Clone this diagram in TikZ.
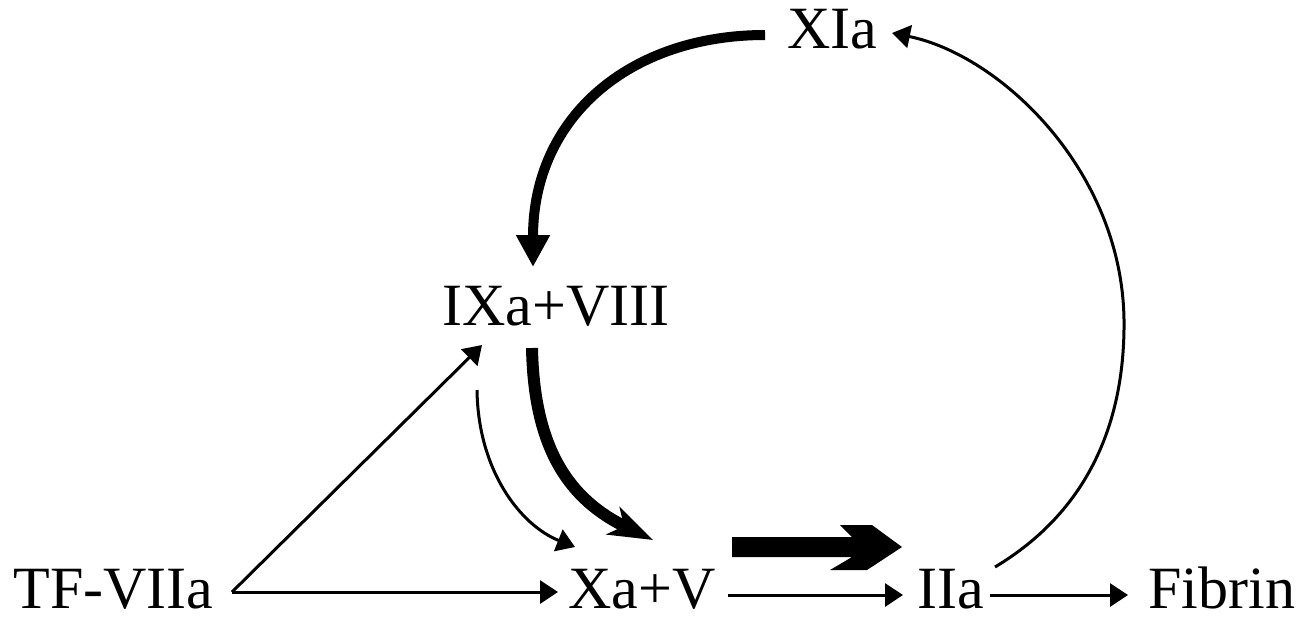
\documentclass[tikz,border=0pt]{standalone}
\usepackage{fontspec}
\setmainfont{Liberation Serif}
\usetikzlibrary{arrows.meta,calc}
\begin{document}
\begin{tikzpicture}[x=0.5pt,y=-0.5pt,
  lbl/.style={inner sep=0pt, anchor=base west, font=\fontsize{30}{36}\selectfont},
  thinarrow/.style={line width=1.5pt, -{Triangle[length=9pt,width=11.5pt]}},
  boldcurve/.style={line width=5pt, -{Triangle[length=16pt,width=16pt]}},
  heavycurve/.style={line width=6pt, -{Stealth[length=22pt,width=15pt,inset=6pt]}}]
\useasboundingbox (0,0) rectangle (1299,618);
% nodes
\node[lbl] (xia) at (787,48) {XIa};
\node[lbl] (ixa) at (442,325) {IXa+VIII};
\node[lbl] (tf)  at (13,608) {TF-VIIa};
\node[lbl] (xav) at (568,608) {Xa+V};
\node[lbl] (iia) at (917,608) {IIa};
\node[lbl] (fib) at (1148,608) {Fibrin};
% straight thin arrows
\draw[thinarrow] ($(tf.base west)+(219,-16)$) -- ($(xav.base west)+(-10,-16)$);
\draw[thinarrow] ($(tf.base west)+(219,-16)$) -- ($(ixa.base west)+(40,20)$);
\draw[thinarrow] ($(xav.base west)+(160,-13)$) -- ($(iia.base west)+(-14,-13)$);
\draw[thinarrow] ($(iia.base west)+(73,-13)$) -- ($(fib.base west)+(-20,-13)$);
% thick straight arrow Xa+V -> IIa
\fill[shift={(xav.base west)}] (164,-71) -- (284,-71) -- (272,-83) -- (304,-83) -- (334,-61)
  -- (299,-38) -- (262,-38) -- (284,-51) -- (164,-51) -- cycle;
% curved arrows IXa+VIII -> Xa+V
\draw[heavycurve] ($(ixa.base west)+(90,23)$) .. controls +(2,102) and +(-83,-40) .. ($(xav.base west)+(85,-68)$);
\draw[thinarrow] ($(ixa.base west)+(35,65)$) .. controls +(1,80) and +(-55,-22) .. ($(xav.base west)+(7,-61)$);
% XIa -> IXa+VIII
\draw[boldcurve] ($(xia.base west)+(-22,-13)$) .. controls +(-135,0) and +(0,-150) .. ($(ixa.base west)+(91,-58)$);
% IIa -> XIa
\draw[thinarrow] ($(iia.base west)+(78,-41)$) .. controls +(95,-57) and +(1,100) .. ($(iia.base west)+(207,-288)$)
  .. controls +(-2,-150) and +(108,22) .. ($(xia.base west)+(105,-15)$);
\end{tikzpicture}
\end{document}
